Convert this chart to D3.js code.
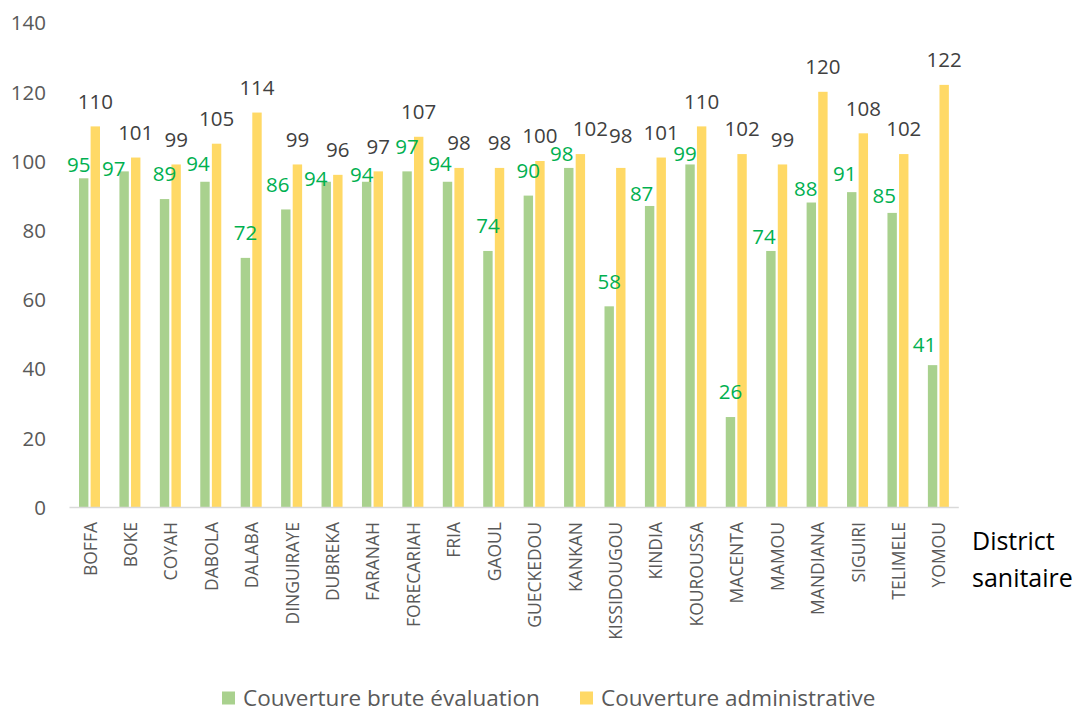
<!DOCTYPE html>
<html>
<head>
<meta charset="utf-8">
<script src="https://cdn.jsdelivr.net/npm/d3@7"></script>
<style>
  html, body { margin: 0; padding: 0; background: #fff; }
  svg { display: block; font-family: "Open Sans", "Noto Sans", sans-serif; }
</style>
</head>
<body>
<svg id="chart" width="1082" height="713"></svg>
<script>
// District names
const districts = ["BOFFA", "BOKE", "COYAH", "DABOLA", "DALABA", "DINGUIRAYE", "DUBREKA",
  "FARANAH", "FORECARIAH", "FRIA", "GAOUL", "GUECKEDOU", "KANKAN", "KISSIDOUGOU",
  "KINDIA", "KOUROUSSA", "MACENTA", "MAMOU", "MANDIANA", "SIGUIRI", "TELIMELE", "YOMOU"];

// Couverture brute évaluation (%)
const couvBrute = [95, 97, 89, 94, 72, 86, 94, 94, 97, 94, 74, 90, 98, 58, 87, 99, 26, 74, 88, 91, 85, 41];

// Couverture administrative (%)
const couvAdmin = [110, 101, 99, 105, 114, 99, 96, 97, 107, 98, 98, 100, 102, 98, 101, 110, 102, 99, 120, 108, 102, 122];

// Y axis ticks
const yTicks = [0, 20, 40, 60, 80, 100, 120, 140];

// Series names
const seriesNames = ["Couverture brute évaluation", "Couverture administrative"];

// Hand-placed label nudges [dx, dy] in px, relative to the default spot above each bar
const bruteLabelNudge = [[-5, 11], [-10.5, 22], [0, 0], [-7, 7], [0, 0], [-8, 0], [-10.5, 22],
  [-5, 18], [0, 0], [-7.5, 7], [0, 0], [0, 0], [-7, 11], [0, 0],
  [-8, 13], [-5, 14.5], [0, 0], [-7, 11], [-5.5, 11], [-7, 6.5], [-8, 7.5], [-8, 4]];
const adminLabelNudge = districts.map(d => d === "KANKAN" ? [10, 0] : d === "KISSIDOUGOU" ? [0, -7] : [0, 0]);

const colors = { brute: "#A9D18E", admin: "#FFD966" };

const svg = d3.select("#chart");

const x = d3.scaleBand().domain(districts).range([69, 958.3]).paddingInner(0).paddingOuter(0);
const xInner = d3.scaleBand().domain([0, 1]).range([10, 31]).paddingInner(0.19);
const y = d3.scaleLinear().domain([0, 140]).range([507, 22.6]);

// Y axis labels (no axis line, no gridlines)
const yAxis = d3.axisLeft(y).tickValues(yTicks).tickSize(0).tickPadding(0);
const yg = svg.append("g").attr("transform", "translate(46,0)").call(yAxis);
yg.select(".domain").remove();
yg.selectAll("text")
  .attr("font-family", "'Open Sans', sans-serif")
  .attr("font-size", 20.5)
  .attr("fill", "#595959")
  .attr("dy", "0.36em");

// Bars
const groups = svg.append("g").selectAll("g")
  .data(districts)
  .join("g")
  .attr("transform", d => `translate(${x(d)},0)`);

groups.append("rect")
  .attr("x", xInner(0))
  .attr("width", xInner.bandwidth())
  .attr("y", (d, i) => y(couvBrute[i]))
  .attr("height", (d, i) => y(0) - y(couvBrute[i]))
  .attr("fill", colors.brute);

groups.append("rect")
  .attr("x", xInner(1))
  .attr("width", xInner.bandwidth())
  .attr("y", (d, i) => y(couvAdmin[i]))
  .attr("height", (d, i) => y(0) - y(couvAdmin[i]))
  .attr("fill", colors.admin);

// X axis baseline
const xAxis = d3.axisBottom(x).tickSize(0).tickPadding(0).tickFormat("");
const xg = svg.append("g").attr("transform", `translate(0,${y(0)})`).call(xAxis);
xg.select(".domain").attr("stroke", "#D9D9D9").attr("stroke-width", 1.5);

// Category labels, rotated
svg.append("g").selectAll("text")
  .data(districts)
  .join("text")
  .attr("transform", d => `translate(${x(d) + x.bandwidth() / 2 + 1},522) rotate(-90)`)
  .attr("text-anchor", "end")
  .attr("dy", "0.36em")
  .attr("font-size", 17.5)
  .attr("fill", "#595959")
  .text(d => d);

// Value labels
const labelOffset = 25;
groups.append("text")
  .attr("x", (d, i) => xInner(0) + xInner.bandwidth() / 2 + bruteLabelNudge[i][0])
  .attr("y", (d, i) => y(couvBrute[i]) - labelOffset + bruteLabelNudge[i][1])
  .attr("dy", "0.36em")
  .attr("text-anchor", "middle")
  .attr("font-size", 20.5)
  .attr("fill", "#00B050")
  .text((d, i) => couvBrute[i]);

groups.append("text")
  .attr("x", (d, i) => xInner(1) + xInner.bandwidth() / 2 + adminLabelNudge[i][0])
  .attr("y", (d, i) => y(couvAdmin[i]) - labelOffset + adminLabelNudge[i][1])
  .attr("dy", "0.36em")
  .attr("text-anchor", "middle")
  .attr("font-size", 20.5)
  .attr("fill", "#404040")
  .text((d, i) => couvAdmin[i]);

// Axis title
const title = svg.append("text")
  .attr("font-size", 25)
  .attr("fill", "#000");
title.append("tspan").attr("x", 972).attr("y", 550).text("District");
title.append("tspan").attr("x", 972).attr("y", 587).text("sanitaire");

// Legend
const legendItems = [
  { name: seriesNames[0], color: colors.brute, x: 222 },
  { name: seriesNames[1], color: colors.admin, x: 580 }
];
const lg = svg.append("g").selectAll("g")
  .data(legendItems)
  .join("g")
  .attr("transform", d => `translate(${d.x},698)`);
lg.append("rect").attr("x", 0).attr("y", -6.5).attr("width", 13).attr("height", 13).attr("fill", d => d.color);
lg.append("text")
  .attr("x", 21)
  .attr("dy", "0.36em")
  .attr("font-size", 22.5)
  .attr("fill", "#595959")
  .text(d => d.name);
</script>
</body>
</html>
